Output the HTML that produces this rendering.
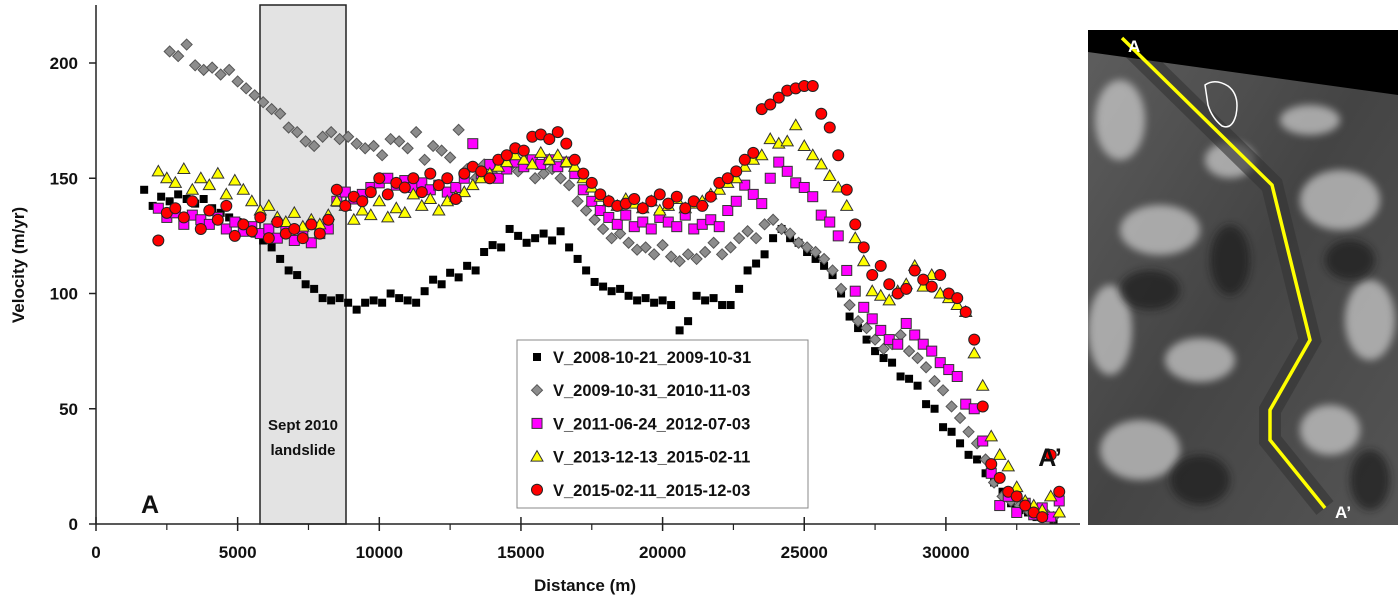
<!DOCTYPE html>
<html><head><meta charset="utf-8"><style>
html,body{margin:0;padding:0;background:#fff;width:1400px;height:603px;overflow:hidden}
svg{display:block;font-family:"Liberation Sans",sans-serif}
</style></head><body>
<svg id="chart" width="1400" height="603" viewBox="0 0 1400 603">
<defs>
<linearGradient id="img-grad" x1="0" y1="0" x2="1" y2="1">
<stop offset="0" stop-color="#5e5e5e"/><stop offset="0.5" stop-color="#444"/><stop offset="1" stop-color="#555"/>
</linearGradient>
<filter id="blur"><feGaussianBlur stdDeviation="4"/></filter>
<clipPath id="imgclip"><rect x="1088" y="30" width="310" height="495"/></clipPath>
</defs>
<rect x="260" y="5" width="86" height="519" fill="#e3e3e3" stroke="#222" stroke-width="1.5"/>
<text x="303" y="430" text-anchor="middle" font-size="15" font-weight="bold" fill="#111">Sept 2010</text>
<text x="303" y="455" text-anchor="middle" font-size="15" font-weight="bold" fill="#111">landslide</text>
<g id="axes"></g>
<g id="marks"></g>
<text x="150" y="513" text-anchor="middle" font-size="25" font-weight="bold" fill="#111">A</text>
<text x="1050" y="466" text-anchor="middle" font-size="25" font-weight="bold" fill="#111">A’</text>
<text transform="translate(24,265) rotate(-90)" text-anchor="middle" font-size="17" font-weight="bold" fill="#111">Velocity (m/yr)</text>
<text x="585" y="591" text-anchor="middle" font-size="17" font-weight="bold" fill="#111">Distance (m)</text>
<g id="legend">
<rect x="517" y="340" width="291" height="168" fill="#fff" stroke="#888" stroke-width="1"/>
</g>
<g clip-path="url(#imgclip)">
<rect x="1088" y="30" width="310" height="495" fill="url(#img-grad)"/>
<g filter="url(#blur)" fill="#c8c8c8" opacity="0.75">
<ellipse cx="1120" cy="120" rx="25" ry="40"/>
<ellipse cx="1160" cy="230" rx="40" ry="25"/>
<ellipse cx="1110" cy="330" rx="22" ry="45"/>
<ellipse cx="1200" cy="360" rx="35" ry="22"/>
<ellipse cx="1140" cy="450" rx="40" ry="30"/>
<ellipse cx="1340" cy="200" rx="40" ry="30"/>
<ellipse cx="1370" cy="320" rx="25" ry="40"/>
<ellipse cx="1330" cy="430" rx="30" ry="25"/>
<ellipse cx="1230" cy="160" rx="25" ry="18"/>
<ellipse cx="1310" cy="120" rx="30" ry="15"/>
</g>
<g filter="url(#blur)" fill="#1a1a1a" opacity="0.7">
<ellipse cx="1150" cy="290" rx="30" ry="20"/>
<ellipse cx="1230" cy="260" rx="20" ry="35"/>
<ellipse cx="1350" cy="260" rx="25" ry="20"/>
<ellipse cx="1200" cy="480" rx="30" ry="25"/>
<ellipse cx="1370" cy="480" rx="20" ry="30"/>
</g>
<polyline points="1122,38 1272,185 1310,340 1270,410 1270,440 1325,508" fill="none" stroke="#333" stroke-width="22" opacity="0.6"/>
<polygon points="1088,30 1398,30 1398,95 1088,52" fill="#000"/>
<path d="M1205 85 Q1215 78 1228 86 Q1240 95 1236 115 Q1232 130 1222 126 Q1212 118 1208 105 Z" fill="none" stroke="#fff" stroke-width="1.5"/>
<polyline points="1122,38 1272,185 1310,340 1270,410 1270,440 1325,508" fill="none" stroke="#ffff00" stroke-width="3.5"/>
<text x="1128" y="52" font-size="17" font-weight="bold" fill="#fff">A</text>
<text x="1335" y="518" font-size="17" font-weight="bold" fill="#fff">A’</text>
</g>
</svg>
<script>
const xTicks=[0,5000,10000,15000,20000,25000,30000];
const yTicks=[0,50,100,150,200];
const seriesNames=["V_2008-10-21_2009-10-31","V_2009-10-31_2010-11-03","V_2011-06-24_2012-07-03","V_2013-12-13_2015-02-11","V_2015-02-11_2015-12-03"];
const blackDist=[1700,2000,2300,2600,2900,3200,3500,3800,4100,4400,4700,5000,5300,5600,5900,6200,6500,6800,7100,7400,7700,8000,8300,8600,8900,9200,9500,9800,10100,10400,10700,11000,11300,11600,11900,12200,12500,12800,13100,13400,13700,14000,14300,14600,14900,15200,15500,15800,16100,16400,16700,17000,17300,17600,17900,18200,18500,18800,19100,19400,19700,20000,20300,20600,20900,21200,21500,21800,22100,22400,22700,23000,23300,23600,23900,24200,24500,24800,25100,25400,25700,26000,26300,26600,26900,27200,27500,27800,28100,28400,28700,29000,29300,29600,29900,30200,30500,30800,31100,31400,31700,32000,32300,32600,32900,33200,33500,33800];
const blackVel=[145,138,142,140,143,141,139,141,137,135,133,131,129,126,123,120,115,110,108,104,102,98,97,98,96,93,96,97,96,100,98,97,96,101,106,104,109,107,112,110,118,121,120,128,125,122,124,126,123,127,120,115,110,105,103,101,102,99,97,98,96,97,95,84,88,99,97,98,95,95,102,110,113,117,124,128,124,122,118,115,112,108,100,90,85,80,75,72,70,64,63,60,52,50,42,40,35,30,28,22,18,14,9,6,5,3,3,2];
const grayDist=[2600,2900,3200,3500,3800,4100,4400,4700,5000,5300,5600,5900,6200,6500,6800,7100,7400,7700,8000,8300,8600,8900,9200,9500,9800,10100,10400,10700,11000,11300,11600,11900,12200,12500,12800,13100,13400,13700,14000,14300,14600,14900,15200,15500,15800,16100,16400,16700,17000,17300,17600,17900,18200,18500,18800,19100,19400,19700,20000,20300,20600,20900,21200,21500,21800,22100,22400,22700,23000,23300,23600,23900,24200,24500,24800,25100,25400,25700,26000,26300,26600,26900,27200,27500,27800,28100,28400,28700,29000,29300,29600,29900,30200,30500,30800,31100,31400,31700,32000,32300,32600,32900,33200,33500,33800];
const grayVel=[205,203,208,199,197,198,195,197,192,189,186,183,180,178,172,170,166,164,168,170,167,168,165,163,164,160,167,166,163,170,158,164,162,159,171,154,150,156,152,158,155,153,157,150,152,154,150,147,140,136,132,128,124,126,122,119,120,117,121,116,114,117,115,118,122,117,120,124,127,124,130,132,128,126,122,120,118,115,110,102,95,88,85,80,76,78,82,75,72,68,62,58,51,46,40,35,28,18,12,10,8,6,4,5,3];
const gridDist=[2200,2500,2800,3100,3400,3700,4000,4300,4600,4900,5200,5500,5800,6100,6400,6700,7000,7300,7600,7900,8200,8500,8800,9100,9400,9700,10000,10300,10600,10900,11200,11500,11800,12100,12400,12700,13000,13300,13600,13900,14200,14500,14800,15100,15400,15700,16000,16300,16600,16900,17200,17500,17800,18100,18400,18700,19000,19300,19600,19900,20200,20500,20800,21100,21400,21700,22000,22300,22600,22900,23200,23500,23800,24100,24400,24700,25000,25300,25600,25900,26200,26500,26800,27100,27400,27700,28000,28300,28600,28900,29200,29500,29800,30100,30400,30700,31000,31300,31600,31900,32200,32500,32800,33100,33400,33700,34000];
const magentaVel=[137,133,135,130,134,132,130,133,128,131,127,129,126,128,124,127,123,125,122,126,128,140,144,141,143,146,148,150,147,149,146,148,145,147,144,146,150,165,152,156,150,154,157,155,158,156,158,155,157,152,145,140,136,133,130,134,129,131,128,133,131,129,134,128,130,132,129,136,140,147,143,139,150,157,153,148,146,142,134,131,125,110,101,94,89,84,80,78,87,82,78,75,70,67,64,52,50,36,22,8,12,5,9,4,7,3,10];
const yellowVel=[153,150,148,154,145,150,147,152,143,149,145,140,136,138,133,131,135,129,132,130,134,140,138,132,136,134,140,133,137,135,143,138,141,136,140,142,144,147,150,152,155,157,160,158,156,161,158,160,157,155,150,146,142,140,138,141,139,137,140,136,138,141,137,139,140,143,145,148,150,155,158,160,167,165,166,173,164,160,156,151,146,138,124,114,101,99,97,101,104,112,103,108,100,98,95,92,74,60,38,30,25,16,10,8,6,12,5];
const redVel=[123,135,137,133,140,128,136,132,138,125,130,127,133,124,131,126,128,124,130,126,132,145,138,142,140,144,150,143,148,146,150,144,152,147,150,141,152,155,153,150,158,160,163,162,168,169,167,170,165,158,152,148,143,140,138,139,141,137,140,143,139,142,137,140,138,142,148,150,153,158,161,180,182,185,188,189,190,190,178,172,160,145,130,120,108,112,104,100,102,110,106,103,108,100,98,92,80,51,26,20,14,12,8,5,3,30,14];

const NS="http://www.w3.org/2000/svg";
const X0=96, PXK=28.33, Y0=524, PYU=2.305;
function sx(d){return X0+d/1000*PXK;}
function sy(v){return Y0-v*PYU;}
function mk(tag,attrs,parent){const e=document.createElementNS(NS,tag);for(const k in attrs)e.setAttribute(k,attrs[k]);parent.appendChild(e);return e;}
const axes=document.getElementById('axes');
const yl=mk('line',{x1:X0,y1:5,x2:X0,y2:Y0,stroke:'#222','stroke-width':1.5},axes);


const xl=mk('line',{x1:X0,y1:Y0,x2:1080,y2:Y0,stroke:'#222','stroke-width':1.5},axes);


yTicks.forEach(v=>{
  mk('line',{x1:X0-7,y1:sy(v),x2:X0,y2:sy(v),stroke:'#222','stroke-width':1.5},axes);
  const t=mk('text',{x:X0-18,y:sy(v)+6,'text-anchor':'end','font-size':17,'font-weight':'bold',fill:'#111'},axes);
  t.textContent=v;
  
  
});
xTicks.forEach(d=>{
  mk('line',{x1:sx(d),y1:Y0-7,x2:sx(d),y2:Y0+7,stroke:'#222','stroke-width':1.5},axes);
  mk('line',{x1:sx(d+2500),y1:Y0,x2:sx(d+2500),y2:Y0+6,stroke:'#222','stroke-width':1.2},axes);
  const t=mk('text',{x:sx(d),y:Y0+34,'text-anchor':'middle','font-size':17,'font-weight':'bold',fill:'#111'},axes);
  t.textContent=d;
  
  
});
const marks=document.getElementById('marks');
function marker(type,x,y,parent){
  let e;
  if(type===0){e=mk('rect',{x:x-4,y:y-4,width:8,height:8,fill:'#000'},parent);}
  else if(type===1){e=mk('polygon',{points:`${x},${y-5.5} ${x+5.5},${y} ${x},${y+5.5} ${x-5.5},${y}`,fill:'#8c8c8c',stroke:'#555','stroke-width':1},parent);}
  else if(type===2){e=mk('rect',{x:x-5,y:y-5,width:10,height:10,fill:'#ff00ff',stroke:'#333','stroke-width':1},parent);}
  else if(type===3){e=mk('polygon',{points:`${x},${y-6} ${x+6},${y+4.5} ${x-6},${y+4.5}`,fill:'#ffff00',stroke:'#333','stroke-width':1},parent);}
  else {e=mk('circle',{cx:x,cy:y,r:5.5,fill:'#ff0000',stroke:'#222','stroke-width':1},parent);}
  return e;
}
const allSeries=[[blackDist,blackVel],[grayDist,grayVel],[gridDist,magentaVel],[gridDist,yellowVel],[gridDist,redVel]];
const seriesKeys=['black','gray','magenta','yellow','red'];
allSeries.forEach((s,k)=>{
  const g=mk('g',{},marks);
  
  
  s[0].forEach((d,i)=>{
    const p=marker(k,sx(d),sy(s[1][i]),g);
    
    
  });
});
const legend=document.getElementById('legend');
seriesNames.forEach((n,i)=>{
  const y=357+i*33.2;
  const g=mk('g',{},legend);
  
  
  marker(i,537,y,g);
  const t=mk('text',{x:553,y:y+6,'font-size':16.5,'font-weight':'bold',fill:'#111'},g);
  t.textContent=n;
});
</script>
</body></html>
